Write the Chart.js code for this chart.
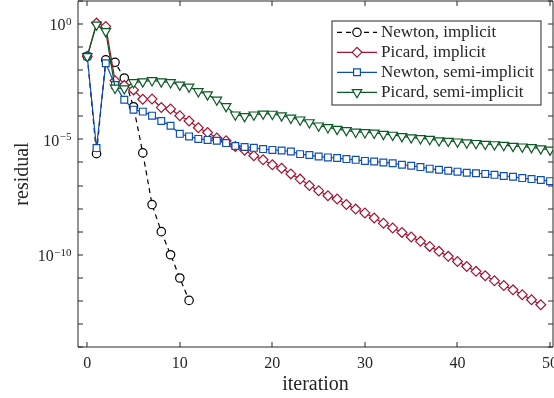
<!DOCTYPE html>
<html>
<head>
<meta charset="utf-8">
<script src="https://cdn.jsdelivr.net/npm/chart.js@4.4.1/dist/chart.umd.min.js"></script>
<style>
html,body{margin:0;padding:0;background:#ffffff;}
#wrap{width:554px;height:398px;position:relative;}
</style>
</head>
<body>
<div id="wrap"><canvas id="c" width="554" height="398"></canvas></div>
<script>
// ---------- data ----------
const iterations = [0,1,2,3,4,5,6,7,8,9,10,11,12,13,14,15,16,17,18,19,20,21,22,23,24,25,26,27,28,29,30,31,32,33,34,35,36,37,38,39,40,41,42,43,44,45,46,47,48,49,50];

const newtonImplicit = [4.0e-2, 2.4e-6, 2.8e-2, 2.2e-2, 4.6e-3, 2.6e-4, 2.6e-6, 1.5e-8, 1.0e-9, 1.0e-10, 9.8e-12, 1.05e-12];

const picardImplicit = [4.0e-2, 1.1, 7.9e-1, 3.5e-3, 2.2e-3, 1.4e-3, 5.5e-4, 5.6e-4, 2.4e-4, 2.1e-4,
  1.07e-4, 6.3e-5, 3.2e-5, 2.0e-5, 1.15e-5, 8.7e-6, 4.9e-6, 3.4e-6, 1.95e-6, 1.3e-6,
  7.9e-7, 5.6e-7, 3.2e-7, 1.9e-7, 1.0e-7, 6.0e-8, 3.6e-8, 2.6e-8, 1.5e-8, 9.5e-9,
  6.5e-9, 3.9e-9, 2.3e-9, 1.45e-9, 9.3e-10, 5.9e-10, 3.8e-10, 2.3e-10, 1.4e-10, 8.5e-11,
  5.1e-11, 3.1e-11, 1.9e-11, 1.23e-11, 7.4e-12, 4.6e-12, 3.0e-12, 1.86e-12, 1.12e-12, 6.8e-13];

const newtonSemiImplicit = [4.0e-2, 4.2e-6, 2.0e-2, 2.3e-3, 5.2e-4, 1.95e-4, 1.6e-4, 1.07e-4, 6.3e-5, 3.9e-5,
  1.74e-5, 1.35e-5, 1.05e-5, 9.5e-6, 8.7e-6, 6.9e-6, 5.2e-6, 4.7e-6, 4.3e-6, 3.8e-6,
  3.5e-6, 3.3e-6, 3.0e-6, 2.3e-6, 2.1e-6, 1.8e-6, 1.66e-6, 1.55e-6, 1.4e-6, 1.3e-6,
  1.17e-6, 1.1e-6, 1.0e-6, 9.3e-7, 7.9e-7, 7.2e-7, 6.3e-7, 5.4e-7, 4.8e-7, 4.4e-7,
  4.0e-7, 3.6e-7, 3.4e-7, 3.2e-7, 2.9e-7, 2.6e-7, 2.4e-7, 2.1e-7, 1.9e-7, 1.74e-7, 1.55e-7];

const picardSemiImplicit = [4.0e-2, 9.3e-1, 4.8e-1, 1.7e-3, 1.6e-3, 2.95e-3, 3.2e-3, 3.6e-3, 3.2e-3, 2.95e-3,
  2.3e-3, 1.9e-3, 1.2e-3, 8.7e-4, 5.2e-4, 2.7e-4, 1.17e-4, 1.0e-4, 1.17e-4, 1.29e-4,
  1.26e-4, 1.07e-4, 8.5e-5, 7.1e-5, 5.4e-5, 3.9e-5, 3.3e-5, 2.8e-5, 2.45e-5, 2.1e-5,
  2.0e-5, 1.9e-5, 1.7e-5, 1.55e-5, 1.35e-5, 1.2e-5, 1.1e-5, 1.02e-5, 8.9e-6, 8.5e-6,
  7.9e-6, 7.2e-6, 6.8e-6, 6.3e-6, 6.0e-6, 5.6e-6, 5.1e-6, 4.8e-6, 4.5e-6, 4.0e-6, 3.5e-6];

const seriesNames = ['Newton, implicit', 'Picard, implicit', 'Newton, semi-implicit', 'Picard, semi-implicit'];

const xTicks = [0, 10, 20, 30, 40, 50];
const xTickLabels = ['0', '10', '20', '30', '40', '50'];
const yDecades = [1e1,1e0,1e-1,1e-2,1e-3,1e-4,1e-5,1e-6,1e-7,1e-8,1e-9,1e-10,1e-11,1e-12,1e-13,1e-14];
const yLabelled = [1e0, 1e-5, 1e-10];
const yLabelBase = '10';
const yLabelExponent = ['0', '\u22125', '\u221210'];

// ---------- helpers ----------
function pts(vals){ return vals.map((v,i)=>({x: iterations[i], y: v})); }
const SERIF = '"Liberation Serif", "Times New Roman", serif';
const AXIS = '#262626';

const styles = [
  {color:'#000000', style:'circle', radius:4.2, rotation:0, dash:[5,4]},
  {color:'#A2142F', style:'rectRot', radius:4.9, rotation:0, dash:[]},
  {color:'#0F4FB0', style:'rect', radius:4.8, rotation:0, dash:[]},
  {color:'#0B5A24', style:'triangle', radius:5.5, rotation:180, dash:[]}
];
const seriesData = [newtonImplicit, picardImplicit, newtonSemiImplicit, picardSemiImplicit];

const datasets = seriesData.map((vals, i) => ({
  label: seriesNames[i],
  data: pts(vals),
  borderColor: styles[i].color,
  backgroundColor: '#ffffff',
  borderWidth: 1.2,
  borderDash: styles[i].dash,
  pointStyle: styles[i].style,
  pointRadius: styles[i].radius,
  pointRotation: styles[i].rotation,
  pointBorderWidth: 1.2,
  pointBorderColor: styles[i].color,
  pointBackgroundColor: '#ffffff',
  tension: 0,
  order: 3 - i
}));

// frame + inward tick marks + tick labels
const framePlugin = {
  id: 'frame',
  afterDatasetsDraw(chart){
    const {ctx, chartArea:{left,right,top,bottom}, scales:{x,y}} = chart;
    ctx.save();
    ctx.strokeStyle = AXIS;
    ctx.lineWidth = 1;
    ctx.setLineDash([]);
    ctx.beginPath();
    ctx.rect(left, top, right-left, bottom-top);
    ctx.stroke();
    const tl = 5;
    ctx.beginPath();
    xTicks.forEach(v => {
      const px = Math.round(x.getPixelForValue(v));
      ctx.moveTo(px, bottom); ctx.lineTo(px, bottom - tl);
      ctx.moveTo(px, top); ctx.lineTo(px, top + tl);
    });
    yDecades.forEach(v => {
      const py = Math.round(y.getPixelForValue(v));
      ctx.moveTo(left, py); ctx.lineTo(left + tl, py);
      ctx.moveTo(right, py); ctx.lineTo(right - tl, py);
    });
    ctx.stroke();

    ctx.fillStyle = AXIS;
    // x tick labels
    ctx.font = '16px ' + SERIF;
    ctx.textAlign = 'center';
    ctx.textBaseline = 'alphabetic';
    xTicks.forEach((v, k) => {
      ctx.fillText(xTickLabels[k], x.getPixelForValue(v), bottom + 21);
    });

    // y tick labels: "10" with raised exponent
    ctx.textAlign = 'left';
    const rightEdge = left - 6.5;
    yLabelled.forEach((v, k) => {
      const py = y.getPixelForValue(v);
      ctx.font = '11px ' + SERIF;
      const ew = ctx.measureText(yLabelExponent[k]).width;
      ctx.font = '16px ' + SERIF;
      const bw = ctx.measureText(yLabelBase).width;
      const bx = rightEdge - ew - 0.5 - bw;
      ctx.fillText(yLabelBase, bx, py + 6.4);
      ctx.font = '11px ' + SERIF;
      ctx.fillText(yLabelExponent[k], rightEdge - ew, py + 0.8);
    });
    ctx.restore();
  }
};

// legend box inside the plot (top right)
const legendPlugin = {
  id: 'insideLegend',
  afterDraw(chart){
    const ctx = chart.ctx;
    const bx = 332, by = 21, bw = 209, bh = 84;
    ctx.save();
    ctx.fillStyle = '#ffffff';
    ctx.fillRect(bx, by, bw, bh);
    ctx.strokeStyle = AXIS;
    ctx.lineWidth = 1;
    ctx.setLineDash([]);
    ctx.strokeRect(bx, by, bw, bh);
    chart.data.datasets.forEach((ds, i) => {
      const yy = 32.3 + 20 * i;
      const x0 = 337, x1 = 377, xm = 357;
      ctx.strokeStyle = ds.borderColor;
      ctx.lineWidth = ds.borderWidth;
      ctx.setLineDash(ds.borderDash || []);
      ctx.beginPath();
      ctx.moveTo(x0, yy); ctx.lineTo(x1, yy);
      ctx.stroke();
      ctx.setLineDash([]);
      ctx.fillStyle = '#ffffff';
      ctx.strokeStyle = ds.pointBorderColor;
      ctx.lineWidth = ds.pointBorderWidth;
      Chart.helpers.drawPoint(ctx, {pointStyle: ds.pointStyle, rotation: ds.pointRotation, radius: ds.pointRadius, borderWidth: ds.pointBorderWidth}, xm, yy);
      ctx.fillStyle = AXIS;
      ctx.font = '17px ' + SERIF;
      ctx.textBaseline = 'middle';
      ctx.textAlign = 'left';
      ctx.fillText(ds.label, 381, yy + 0.5);
    });
    ctx.restore();
  }
};

new Chart(document.getElementById('c'), {
  type: 'line',
  data: { datasets },
  options: {
    responsive: false,
    animation: false,
    devicePixelRatio: 1,
    layout: { autoPadding: false, padding: { top: 1, left: 0, right: 1, bottom: 0 } },
    plugins: { legend: { display: false }, tooltip: { enabled: false } },
    scales: {
      x: {
        type: 'linear',
        min: -1,
        max: 50.32,
        grid: { display: false },
        border: { display: false },
        afterBuildTicks: s => { s.ticks = xTicks.map(v => ({ value: v })); },
        afterFit: s => { s.height = 51; s.paddingLeft = 0; s.paddingRight = 0; },
        ticks: { display: false },
        title: { display: true, text: 'iteration', color: AXIS, font: { family: SERIF, size: 20 }, padding: { top: 0, bottom: 1 } }
      },
      y: {
        type: 'logarithmic',
        min: 1e-14,
        max: 1e1,
        grid: { display: false },
        border: { display: false },
        afterBuildTicks: s => { s.ticks = yDecades.map(v => ({ value: v })); },
        afterFit: s => { s.width = 78; s.paddingTop = 0; s.paddingBottom = 0; },
        ticks: { display: false },
        title: { display: true, text: 'residual', color: AXIS, font: { family: SERIF, size: 20 }, padding: { top: 11, bottom: 0 } }
      }
    }
  },
  plugins: [framePlugin, legendPlugin]
});
</script>
</body>
</html>
